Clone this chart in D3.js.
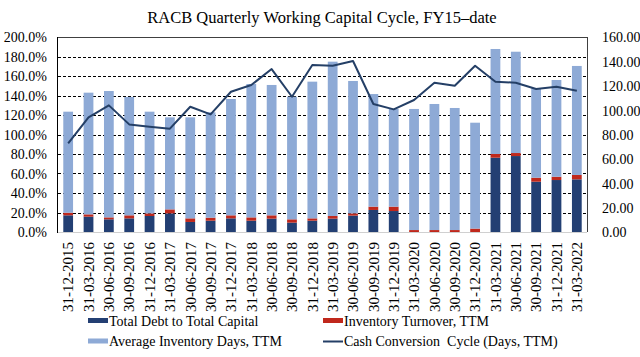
<!DOCTYPE html>
<html>
<head>
<meta charset="utf-8">
<script src="https://cdn.jsdelivr.net/npm/d3@7/dist/d3.min.js"></script>
<style>
  body { margin: 0; background: #fff; }
  svg { display: block; font-family: "Liberation Serif", "Times New Roman", serif; }
</style>
</head>
<body>
<svg id="chart" width="640" height="357"></svg>
<script>
const categories = ["31-12-2015","31-03-2016","30-06-2016","30-09-2016","31-12-2016","31-03-2017","30-06-2017","30-09-2017","31-12-2017","31-03-2018","30-06-2018","30-09-2018","31-12-2018","31-03-2019","30-06-2019","30-09-2019","31-12-2019","31-03-2020","30-06-2020","30-09-2020","31-12-2020","31-03-2021","30-06-2021","30-09-2021","31-12-2021","31-03-2022"];
const totalDebt = [17.1,15.7,13.0,14.0,16.4,19.1,10.3,11.6,14.0,11.6,13.7,9.6,11.6,13.7,16.8,22.6,21.5,0,0,0,0,76.2,77.9,51.6,53.3,54.0];
const invTurnover = [2.7,2.4,2.0,3.1,2.7,4.1,3.7,3.1,3.1,3.4,3.4,3.4,2.4,2.7,2.3,3.4,4.5,2.0,2.0,2.0,3.5,3.8,3.1,4.1,3.4,4.5];
const avgInvDays = [103.6,124.8,129.6,121.4,104.3,94.4,103.6,108.1,119.3,136.8,133.7,125.8,140.2,158.3,135.8,115.5,100.2,124.2,129.3,125.2,108.6,107.7,103.9,91.7,99.2,111.8];
const cashCycle = [72.8,94.1,103.9,88.3,86.4,84.8,102.8,96.5,115.1,120.6,133.7,111.0,137.0,136.4,140.3,105.0,100.6,108.3,122.5,120.0,136.4,123.3,122.5,117.3,119.2,115.9];
const leftTicks = [0,20,40,60,80,100,120,140,160,180,200];
const rightTicks = [0,20,40,60,80,100,120,140,160];
const seriesNames = ["Total Debt to Total Capital","Inventory Turnover, TTM","Average Inventory Days, TTM","Cash Conversion  Cycle (Days, TTM)"];
const colors = ["#233f73","#c0281c","#8eaad6","#243f66"];

const svg = d3.select("#chart");
const m = {left: 58, right: 587, top: 37, bottom: 232};

const x = d3.scaleBand().domain(categories).range([m.left, m.right]).paddingInner(0.52).paddingOuter(0.26);
const yL = d3.scaleLinear().domain([0, 200]).range([m.bottom, m.top]);
const yR = d3.scaleLinear().domain([0, 160]).range([m.bottom, m.top]);

// title
svg.append("text").attr("x", 322).attr("y", 23).attr("text-anchor", "middle")
  .attr("font-size", 16.5).attr("fill", "#000")
  .text("RACB Quarterly Working Capital Cycle, FY15\u2013date");

// gridlines
svg.append("g").selectAll("line").data(leftTicks.filter(d => d > 0 && d < 200)).join("line")
  .attr("x1", m.left).attr("x2", m.right)
  .attr("y1", d => Math.round(yL(d)) + 0.5).attr("y2", d => Math.round(yL(d)) + 0.5)
  .attr("stroke", "#000").attr("stroke-width", 1).attr("stroke-dasharray", "3,2");

// stacked bars
const data = categories.map((c, i) => ({cat: c, d: totalDebt[i], r: invTurnover[i], l: avgInvDays[i]}));
const stack = d3.stack().keys(["d", "r", "l"])(data);
const gBars = svg.append("g");
stack.forEach((layer, k) => {
  gBars.selectAll(null).data(layer).join("rect")
    .attr("x", d => x(d.data.cat))
    .attr("width", x.bandwidth())
    .attr("y", d => yL(d[1]))
    .attr("height", d => Math.max(0, yL(d[0]) - yL(d[1])))
    .attr("fill", colors[k]);
});

// frame
svg.append("line").attr("x1", m.left).attr("x2", m.right).attr("y1", m.bottom + 0.5).attr("y2", m.bottom + 0.5)
  .attr("stroke", "#d0d0d0").attr("stroke-width", 1);
svg.append("line").attr("x1", m.left).attr("x2", m.right).attr("y1", m.top + 0.5).attr("y2", m.top + 0.5)
  .attr("stroke", "#404040").attr("stroke-width", 1);
svg.append("line").attr("x1", m.right + 0.5).attr("x2", m.right + 0.5).attr("y1", m.top).attr("y2", m.bottom)
  .attr("stroke", "#404040").attr("stroke-width", 1);
svg.append("line").attr("x1", m.left - 0.5).attr("x2", m.left - 0.5).attr("y1", m.top).attr("y2", m.bottom + 1)
  .attr("stroke", "#000").attr("stroke-width", 1);

// line
const line = d3.line().x((d, i) => x(categories[i]) + x.bandwidth() / 2).y(d => yR(d));
svg.append("path").datum(cashCycle).attr("d", line)
  .attr("fill", "none").attr("stroke", colors[3]).attr("stroke-width", 2).attr("stroke-linejoin", "round");

// left axis
const axL = svg.append("g").attr("transform", `translate(${m.left},0)`)
  .call(d3.axisLeft(yL).tickValues(leftTicks).tickSize(0).tickPadding(11).tickFormat(d => d.toFixed(1) + "%"));
axL.select(".domain").remove();
axL.selectAll("text").attr("font-size", 14).attr("font-family", "Liberation Serif").attr("fill", "#000").attr("dy", "0.35em");

// right axis
const axR = svg.append("g").attr("transform", `translate(${m.right},0)`)
  .call(d3.axisRight(yR).tickValues(rightTicks).tickSize(0).tickPadding(15).tickFormat(d => d.toFixed(2)));
axR.select(".domain").remove();
axR.selectAll("text").attr("font-size", 14).attr("font-family", "Liberation Serif").attr("fill", "#000").attr("dy", "0.35em");

// x axis
const axX = svg.append("g").attr("transform", `translate(0,${m.bottom})`)
  .call(d3.axisBottom(x).tickSize(0).tickPadding(0));
axX.select(".domain").remove();
axX.selectAll("text")
  .attr("font-size", 15).attr("font-family", "Liberation Serif").attr("fill", "#000")
  .attr("transform", "rotate(-90)")
  .attr("text-anchor", "end")
  .attr("x", -10).attr("y", 0).attr("dy", "0.35em");

// legend
const legendItems = [
  {name: seriesNames[0], color: colors[0], type: "rect", x: 88, y: 321},
  {name: seriesNames[1], color: colors[1], type: "rect", x: 323, y: 321},
  {name: seriesNames[2], color: colors[2], type: "rect", x: 88, y: 341.5},
  {name: seriesNames[3], color: colors[3], type: "line", x: 323, y: 341.5}
];
const lg = svg.append("g");
legendItems.forEach(it => {
  if (it.type === "rect") {
    lg.append("rect").attr("x", it.x).attr("y", it.y - 3).attr("width", 20).attr("height", 5).attr("fill", it.color);
  } else {
    lg.append("line").attr("x1", it.x).attr("x2", it.x + 20).attr("y1", it.y).attr("y2", it.y)
      .attr("stroke", it.color).attr("stroke-width", 2);
  }
  lg.append("text").attr("x", it.x + 21).attr("y", it.y).attr("dy", "0.35em")
    .attr("font-size", 14).attr("fill", "#000").attr("xml:space", "preserve").style("white-space", "pre").text(it.name);
});
</script>
</body>
</html>
